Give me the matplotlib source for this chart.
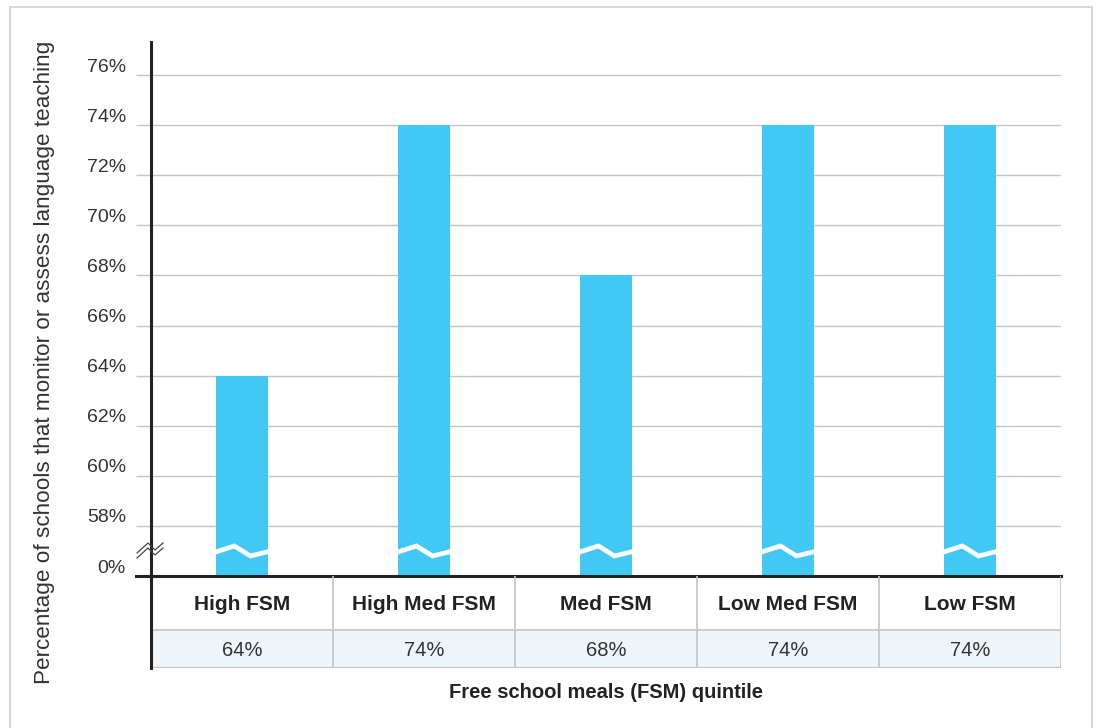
import matplotlib.pyplot as plt
from matplotlib.patches import Rectangle
from matplotlib.lines import Line2D
from matplotlib.transforms import ScaledTranslation
import numpy as np

plt.rcParams['font.family'] = ['Liberation Sans', 'DejaVu Sans']

categories = ['High FSM', 'High Med FSM', 'Med FSM', 'Low Med FSM', 'Low FSM']
values = [64, 74, 68, 74, 74]
value_labels = ['64%', '74%', '68%', '74%', '74%']
tick_values = [56, 58, 60, 62, 64, 66, 68, 70, 72, 74, 76]
tick_labels = ['0%', '58%', '60%', '62%', '64%', '66%', '68%', '70%', '72%', '74%', '76%']

BAR_COLOR = '#41c8f4'
TEXT = '#333333'
GRID = '#c4c4c4'

W, H = 1096, 728
fig = plt.figure(figsize=(W / 100, H / 100), dpi=100)


def box(x0, y0, x1, y1):
    # pixel box (top-left origin) -> figure fraction
    return [x0 / W, 1 - y1 / H, (x1 - x0) / W, (y1 - y0) / H]


# outer frame
fig.add_artist(Rectangle((10 / W, -0.05), (1092 - 10) / W, 1.05 - 7 / H,
                         transform=fig.transFigure, fill=False,
                         edgecolor='#cfcfcf', linewidth=1.2))

ax = fig.add_axes(box(151, 42, 1061, 576))
x = np.arange(len(categories)) + 0.5
ax.bar(x, [v - 56 for v in values], bottom=56, width=0.29, color=BAR_COLOR, zorder=3)

ax.set_xlim(0, len(categories))
ax.set_ylim(56, 56 + 534 / 25.05)
ax.set_yticks(tick_values)
ax.set_yticklabels(tick_labels)
ax.tick_params(axis='y', direction='out', length=11, width=1, color=GRID,
               labelsize=14, labelcolor=TEXT, pad=7)
ax.tick_params(axis='x', bottom=False, labelbottom=False)
# labels sit just above their grid lines
shift = ScaledTranslation(0, 10 / 100, fig.dpi_scale_trans)
for lab in ax.get_yticklabels():
    lab.set_transform(lab.get_transform() + shift)
ax.grid(axis='y', color=GRID, linewidth=1, zorder=0)
for s in ['top', 'right', 'left']:
    ax.spines[s].set_visible(False)
ax.spines['bottom'].set_linewidth(2.2)
ax.spines['bottom'].set_color('#222222')
ax.spines['bottom'].set_zorder(5)

# break marks across each bar
zx = np.array([-0.16, -0.042, 0.046, 0.16])
zy = np.array([56.92, 57.2, 56.8, 57.0])
for xi in x:
    ax.plot(xi + zx, zy, color='white', linewidth=3.4, zorder=4,
            solid_joinstyle='miter', clip_on=False)

# table below the axis (pixel units inside)
tab = fig.add_axes(box(151, 576, 1061, 668))
tab.set_xlim(0, len(categories))
tab.set_ylim(92, 0)
tab.axis('off')
tab.add_patch(Rectangle((0, 54), len(categories), 38, facecolor='#eef6fc', edgecolor='none'))
for i in range(1, len(categories) + 1):
    tab.plot([i, i], [0, 92], color=GRID, linewidth=1.2)
tab.plot([0, len(categories)], [54, 54], color=GRID, linewidth=1.2)
tab.plot([0, len(categories)], [92, 92], color=GRID, linewidth=1.6)
for xi, c, lab in zip(x, categories, value_labels):
    tab.text(xi, 29, c, ha='center', va='center', fontsize=15,
             fontweight='bold', color='#222222')
    tab.text(xi, 74, lab, ha='center', va='center', fontsize=14.5, color=TEXT)

# left axis line through chart and table
fig.add_artist(Line2D([151 / W, 151 / W], [1 - 42 / H, 1 - 668 / H],
                      color='#222222', linewidth=2.2))
# black baseline extension to the left
fig.add_artist(Line2D([136 / W, 151 / W], [1 - 576 / H, 1 - 576 / H],
                      color='#222222', linewidth=2.2))

# axis break symbol on the y axis: two thin parallel zigzags
bx = np.array([137, 148, 155, 163]) / W
for off in (0, 5):
    by = 1 - (np.array([553, 543, 550, 543]) + off) / H
    fig.add_artist(Line2D(bx, by, color='#444444', linewidth=0.9))

fig.text(45 / W, 1 - 362 / H, 'Percentage of schools that monitor or assess language teaching',
         rotation=90, ha='center', va='center', fontsize=16.2, color=TEXT)
fig.text(606 / W, 1 - 693 / H, 'Free school meals (FSM) quintile',
         ha='center', va='center', fontsize=14.5, color='#222222', fontweight='bold')

fig.savefig('out.png', dpi=100)
